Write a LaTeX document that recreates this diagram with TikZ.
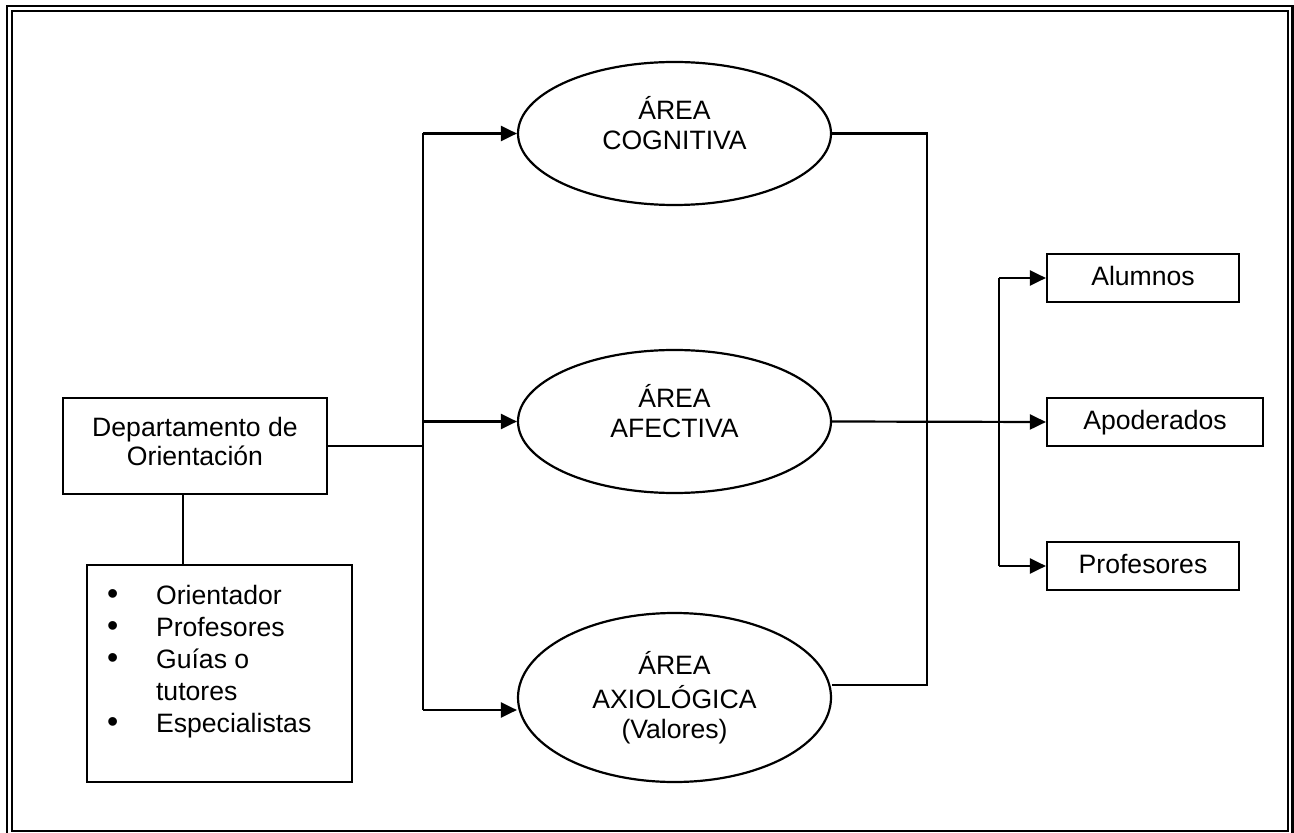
\documentclass[tikz,border=0pt]{standalone}
\usepackage{fontspec}
\setmainfont{Liberation Sans}
\usetikzlibrary{arrows.meta,shapes.geometric,calc}
\newcommand{\blt}{\makebox[24.5pt][l]{\raisebox{-0.2pt}{\fontsize{16}{16}\selectfont•}}}
\begin{document}
\begin{tikzpicture}[x=0.5pt,y=-0.5pt,
  line width=1.1pt,
  box/.style={draw,rectangle,inner sep=0pt,text height=0.716em,text depth=0pt,font=\fontsize{13.3}{15}\selectfont},
  area/.style={draw,ellipse,inner sep=0pt,minimum width=156.5pt,minimum height=71.5pt},
  txt/.style={anchor=north,align=center,inner sep=0pt,font=\fontsize{13.3}{15}\selectfont},
  arr/.style={-{Triangle[length=8pt,width=7.5pt]}}
]
\useasboundingbox (0,0) rectangle (1294,833);
\begin{scope}
  \clip (0,0) rectangle (1294,833);
  \draw (7,6) rectangle (1292.5,840);
  \draw (12,11) rectangle (1288,831);
\end{scope}

% left side
\node[box, minimum width=132pt, minimum height=48pt] (dept) at (195,446) {};
\node[txt, font=\fontsize{13.3}{14.5}\selectfont] (deptt) at (195,415) {\strut Departamento de\\\strut Orientación};
\node[draw, inner sep=0pt, minimum width=132.5pt, minimum height=108.5pt] (team) at (219.5,673.5) {};
\node[anchor=north west, align=left, inner sep=0pt, font=\fontsize{13.3}{16}\selectfont] (teamt) at (106,581)
  {\blt\strut Orientador\\
   \blt\strut Profesores\\
   \blt\strut Guías o\\
   \makebox[24.5pt][l]{}\strut tutores\\
   \blt\strut Especialistas};

% areas
\node[area] (cog) at (674.5,133.5) {};
\node[txt] (cogt) at (674.5,95) {\strut ÁREA\\\strut COGNITIVA};
\node[area] (afe) at (674.5,421.5) {};
\node[txt] (afet) at (674.5,383) {\strut ÁREA\\\strut AFECTIVA};
\node[area, minimum height=84.5pt] (axi) at (674.5,697.5) {};
\node[txt] (axit) at (674.5,650) {\strut ÁREA\\\strut AXIOLÓGICA\\\strut (Valores)};

% targets
\node[box, minimum width=96pt, minimum height=24pt] (alu) at (1143,278) {Alumnos};
\node[box, minimum width=108pt, minimum height=24pt] (apo) at (1155,422) {Apoderados};
\node[box, minimum width=96pt, minimum height=24pt] (pro) at (1143,566) {Profesores};

% connectors
\coordinate (dt) at (183,0);
\draw (dept.south -| dt) -- (team.north -| dt);

\coordinate (ltop) at (423,133.5);
\coordinate (lbot) at (423,710);
\draw (ltop) -- (lbot);
\draw (dept.east) -- (dept.east -| ltop);
\draw[arr] (ltop) -- (cog.west);
\draw[arr] (afe.west -| ltop) -- (afe.west);
\draw[arr] (lbot) -- (lbot -| axi.west);

\coordinate (rtop) at (927,133.5);
\coordinate (rbot) at (927,685);
\draw (cog.east) -- (rtop) -- (rbot) -- (rbot -| axi.east);
\draw[arr] (afe.east) -- (apo.west);

\coordinate (db) at (999,0);
\draw (alu.west -| db) -- (pro.west -| db);
\draw[arr] (alu.west -| db) -- (alu.west);
\draw[arr] (pro.west -| db) -- (pro.west);
\end{tikzpicture}
\end{document}
